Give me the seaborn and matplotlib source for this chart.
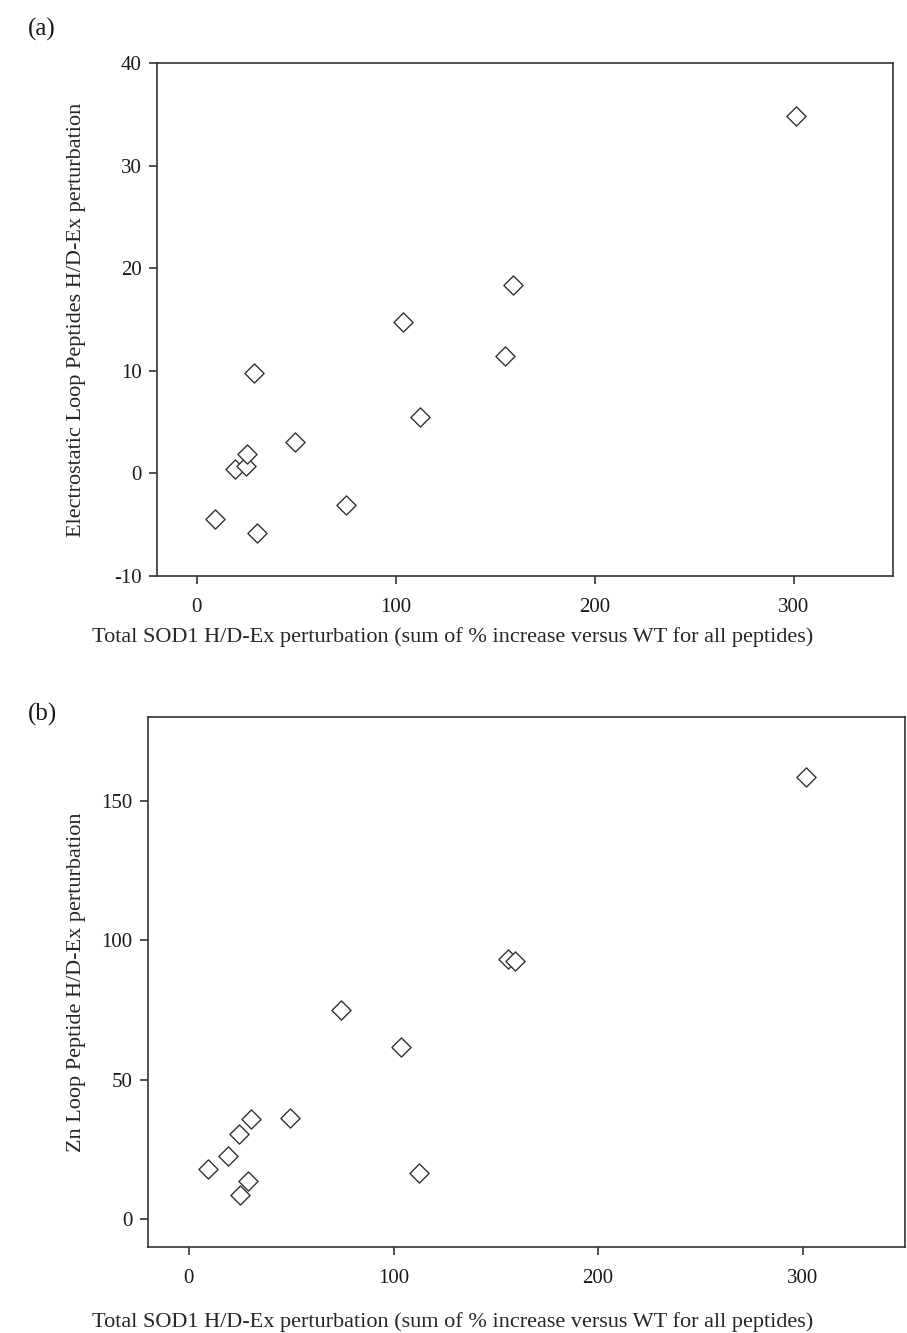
import matplotlib
matplotlib.use("Agg")
import matplotlib.pyplot as plt
import seaborn as sns
import pandas as pd

# ---- data ----
total_a = [9.3, 19.2, 24.6, 25.1, 28.9, 30.5, 49.4, 75.0, 103.7, 112.2, 155.0, 159.0, 301.0]
electro_a = [-4.4, 0.4, 0.7, 1.9, 9.8, -5.8, 3.1, -3.1, 14.8, 5.5, 11.4, 18.4, 34.8]

total_b = [9.1, 19.2, 24.5, 25.0, 28.7, 30.3, 49.3, 74.4, 103.6, 112.7, 156.0, 159.6, 301.5]
zn_b = [18.0, 22.6, 30.5, 8.8, 13.7, 35.8, 36.2, 74.9, 61.6, 16.5, 93.2, 92.5, 158.4]

x_ticks = [0, 100, 200, 300]
ya_ticks = [-10, 0, 10, 20, 30, 40]
yb_ticks = [0, 50, 100, 150]

xlabel = "Total SOD1 H/D-Ex perturbation (sum of % increase versus WT for all peptides)"
ylabel_a = "Electrostatic Loop Peptides H/D-Ex perturbation"
ylabel_b = "Zn Loop Peptide H/D-Ex perturbation"

sns.set_theme(style="ticks")
plt.rcParams["font.family"] = ["Liberation Serif", "DejaVu Serif"]
plt.rcParams["text.color"] = "#1a1a1a"
plt.rcParams["axes.unicode_minus"] = False

W, H = 907, 1333
fig = plt.figure(figsize=(W / 100, H / 100), dpi=100)

def px_axes(left, top, right, bottom):
    return fig.add_axes([left / W, 1 - bottom / H, (right - left) / W, (bottom - top) / H])

ax_a = px_axes(157, 63, 893, 576)
ax_b = px_axes(148, 717, 905, 1247)

df_a = pd.DataFrame({"total": total_a, "val": electro_a})
df_b = pd.DataFrame({"total": total_b, "val": zn_b})

spine_col = "#333333"
for ax, df, yt, ylim, ylab, xly in [
    (ax_a, df_a, ya_ticks, (-10, 40), ylabel_a, 61),
    (ax_b, df_b, yb_ticks, (-10, 180), ylabel_b, 75),
]:
    sns.scatterplot(data=df, x="total", y="val", ax=ax, marker="D", s=95,
                    facecolor="white", edgecolor=spine_col, linewidth=1.0, zorder=3)
    ax.set_xlim(-20, 350)
    ax.set_ylim(*ylim)
    ax.set_xticks(x_ticks)
    ax.set_yticks(yt)
    for sp in ax.spines.values():
        sp.set_visible(True)
        sp.set_color(spine_col)
        sp.set_linewidth(1.2)
    ax.tick_params(axis="x", direction="out", length=6, width=1.2, color=spine_col,
                   labelsize=15, pad=10, labelcolor="#1a1a1a")
    ax.tick_params(axis="y", direction="out", length=6, width=1.2, color=spine_col,
                   labelsize=15, pad=5, labelcolor="#1a1a1a")
    ax.set_xlabel(xlabel, fontsize=16)
    ax.set_ylabel(ylab, fontsize=16)
    bbox = ax.get_position()
    ax_h_px = bbox.height * H
    ax_w_px = bbox.width * W
    ax_left_px = bbox.x0 * W
    ax.xaxis.set_label_coords((453 - ax_left_px) / ax_w_px, -xly / ax_h_px)
    ax.xaxis.label.set_verticalalignment("center")
    ax.yaxis.set_label_coords((77 - ax_left_px) / ax_w_px, 0.5)
    ax.yaxis.label.set_verticalalignment("center")
    ax.grid(False)

fig.text(28 / W, 1 - 29 / H, "(a)", fontsize=18, va="center", ha="left")
fig.text(28 / W, 1 - 714 / H, "(b)", fontsize=18, va="center", ha="left")

fig.savefig("out.png", dpi=100, facecolor="white")
